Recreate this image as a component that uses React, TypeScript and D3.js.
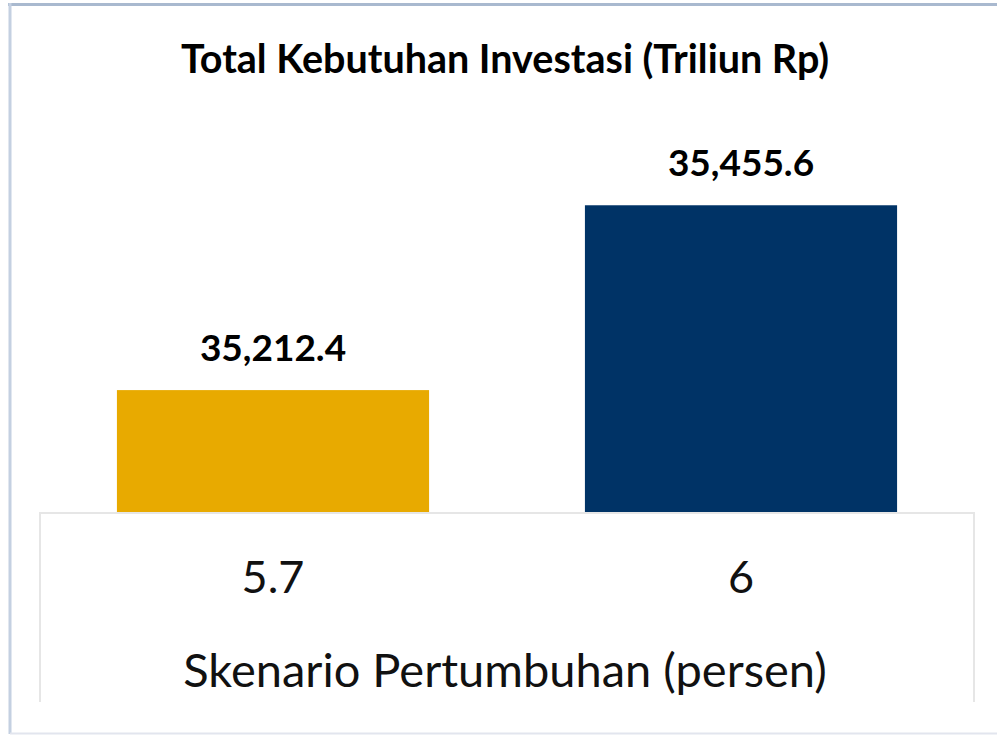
import React, { useEffect, useRef } from 'react';
import * as d3 from 'd3';

// Data
const scenarios = ['5.7', '6'];
const investment = [35212.4, 35455.6];
const barColors = ['#E8AA00', '#003366'];
const chartTitle = 'Total Kebutuhan Investasi (Triliun Rp)';
const axisTitle = 'Skenario Pertumbuhan (persen)';

const App: React.FC = () => {
  const svgRef = useRef<SVGSVGElement>(null);
  const width = 997;
  const height = 735;

  useEffect(() => {
    document.body.style.margin = '0';
    if (!svgRef.current) return;
    const svg = d3.select(svgRef.current);
    svg.selectAll('*').remove();

    const font = 'Lato, "Noto Sans", sans-serif';

    // Plot area
    const plot = { left: 39, right: 975, top: 132, bottom: 512 };

    const x = d3
      .scaleBand<string>()
      .domain(scenarios)
      .range([plot.left, plot.right])
      .paddingInner(0.333)
      .paddingOuter(0.1665);

    const y = d3
      .scaleLinear()
      .domain([35052, 35552])
      .range([plot.bottom, plot.top]);

    // Outer frame
    svg
      .append('line')
      .attr('x1', 8)
      .attr('x2', width)
      .attr('y1', 4.5)
      .attr('y2', 4.5)
      .attr('stroke', '#a9b9cf')
      .attr('stroke-width', 3);
    svg
      .append('line')
      .attr('x1', 10)
      .attr('x2', 10)
      .attr('y1', 3)
      .attr('y2', 734)
      .attr('stroke', '#c4d0e1')
      .attr('stroke-width', 3);
    svg
      .append('line')
      .attr('x1', 10)
      .attr('x2', width)
      .attr('y1', 733.5)
      .attr('y2', 733.5)
      .attr('stroke', '#e2e5ee')
      .attr('stroke-width', 2);

    // Title
    svg
      .append('text')
      .attr('x', 505)
      .attr('y', 73)
      .attr('text-anchor', 'middle')
      .style('font-family', font)
      .style('font-weight', '700')
      .style('font-size', '39.5px')
      .style('fill', '#000')
      .text(chartTitle);

    // Category axis box (top, left, right edges)
    const box = svg.append('g').attr('stroke', '#e6e6e6').attr('stroke-width', 2).attr('fill', 'none');
    box.append('line').attr('x1', plot.left).attr('x2', plot.right).attr('y1', plot.bottom + 1).attr('y2', plot.bottom + 1);
    box.append('line').attr('x1', plot.left + 1).attr('x2', plot.left + 1).attr('y1', plot.bottom).attr('y2', 702);
    box.append('line').attr('x1', plot.right - 1).attr('x2', plot.right - 1).attr('y1', plot.bottom).attr('y2', 702);

    // Bars
    svg
      .selectAll('.bar')
      .data(scenarios)
      .join('rect')
      .attr('class', 'bar')
      .attr('x', d => x(d) || 0)
      .attr('width', x.bandwidth())
      .attr('y', (d, i) => y(investment[i]))
      .attr('height', (d, i) => y.range()[0] - y(investment[i]))
      .attr('fill', (d, i) => barColors[i]);

    // Value labels
    svg
      .selectAll('.value-label')
      .data(scenarios)
      .join('text')
      .attr('class', 'value-label')
      .attr('x', d => (x(d) || 0) + x.bandwidth() / 2)
      .attr('y', (d, i) => y(investment[i]) - 29)
      .attr('text-anchor', 'middle')
      .style('font-family', font)
      .style('font-weight', '700')
      .style('font-size', '37px')
      .style('fill', '#000')
      .text((d, i) => d3.format(',.1f')(investment[i]));

    // Category tick labels
    svg
      .selectAll('.tick-label')
      .data(scenarios)
      .join('text')
      .attr('class', 'tick-label')
      .attr('x', d => (x(d) || 0) + x.bandwidth() / 2)
      .attr('y', 593)
      .attr('text-anchor', 'middle')
      .style('font-family', font)
      .style('font-size', '45px')
      .style('fill', '#111')
      .text(d => d);

    // Axis title
    svg
      .append('text')
      .attr('x', 505)
      .attr('y', 687)
      .attr('text-anchor', 'middle')
      .style('font-family', font)
      .style('font-size', '47px')
      .style('fill', '#111')
      .text(axisTitle);
  }, []);

  return <svg ref={svgRef} width={width} height={height} style={{ display: 'block', background: '#fff' }} />;
};

export default App;
